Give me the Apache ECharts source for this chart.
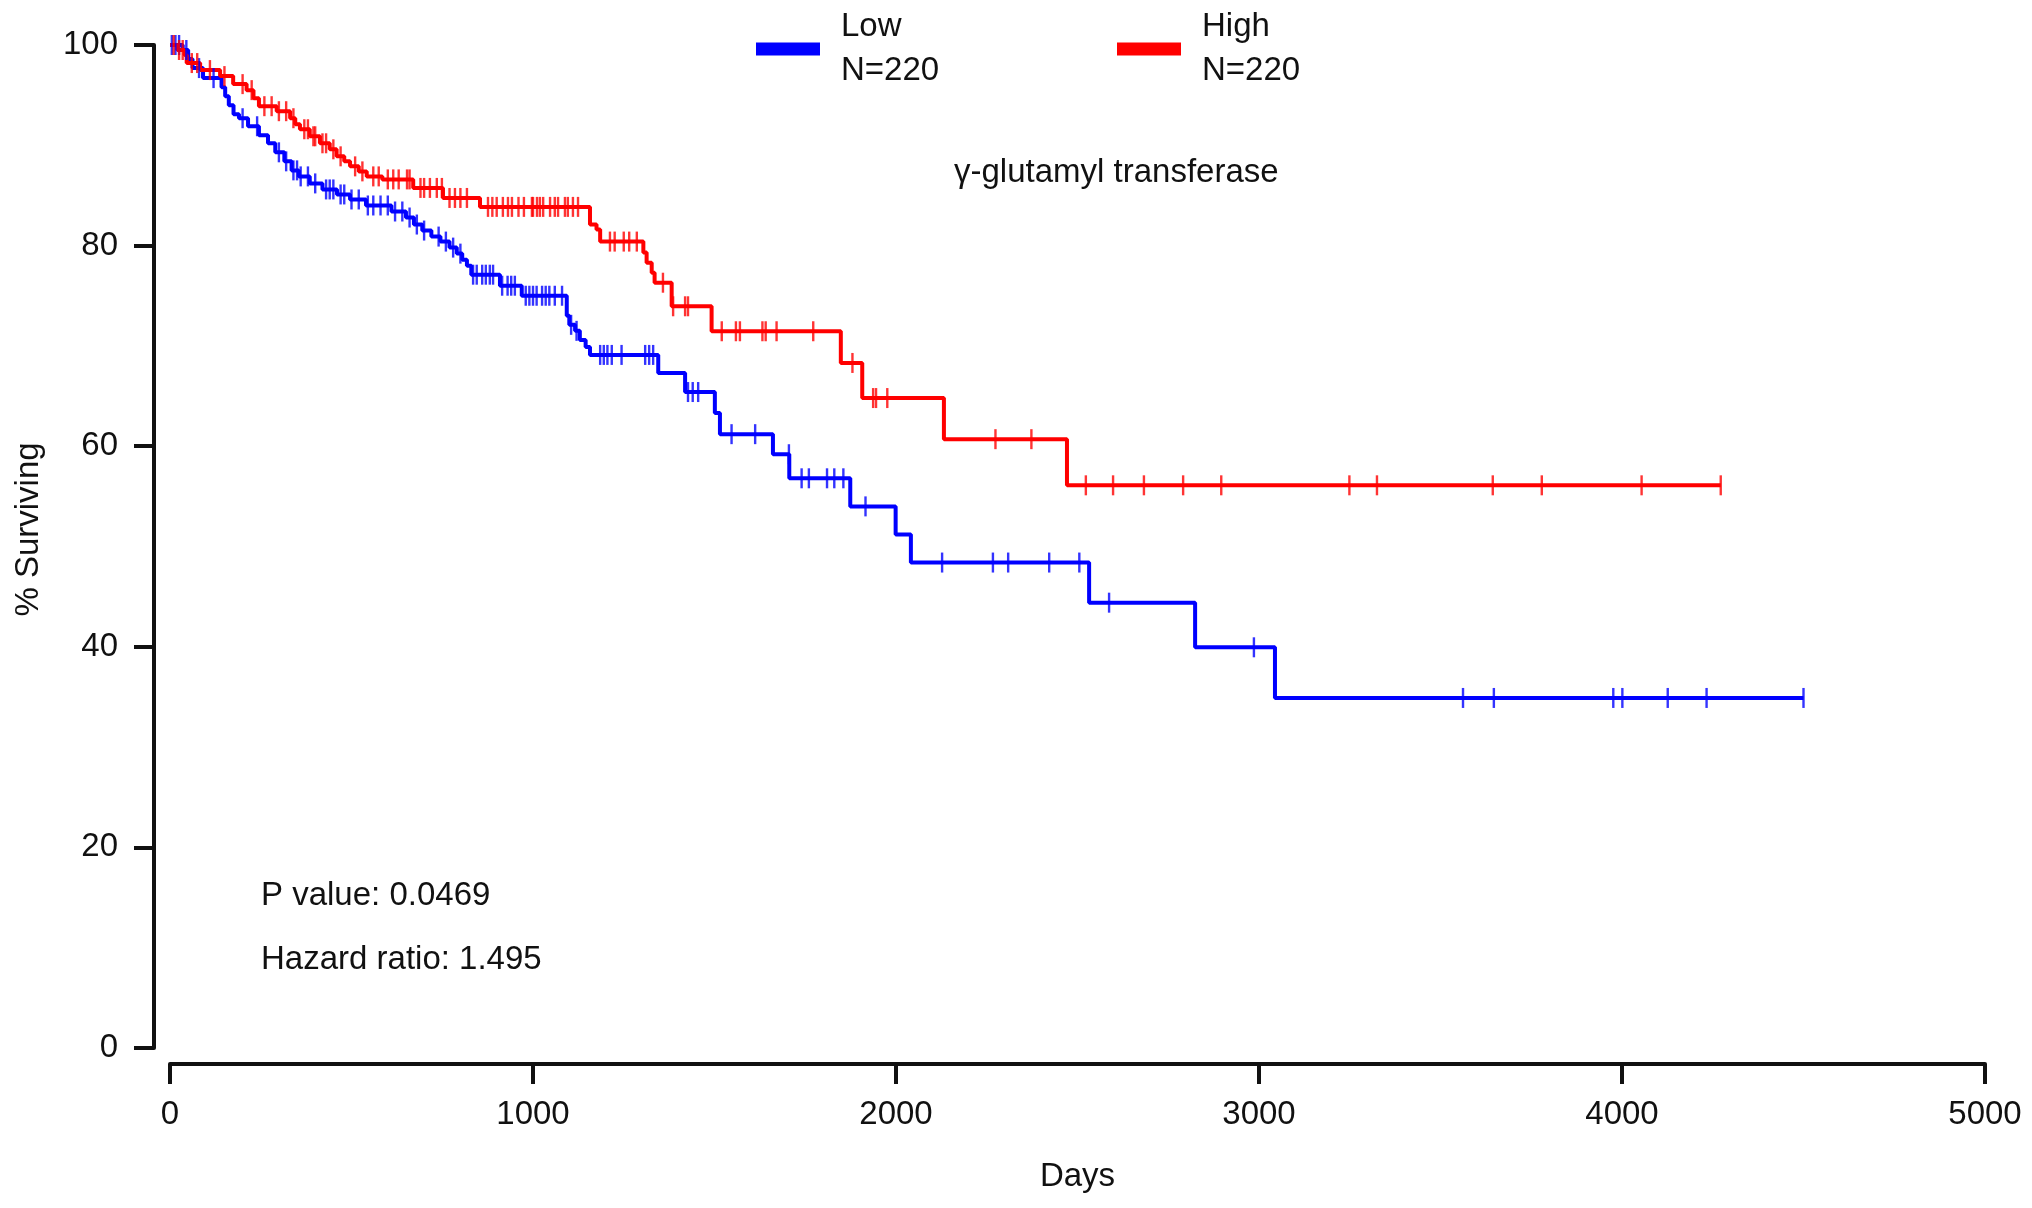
<!DOCTYPE html>
<html>
<head>
<meta charset="utf-8">
<script src="https://cdn.jsdelivr.net/npm/echarts@6/dist/echarts.min.js"></script>
<style>
html,body{margin:0;padding:0;background:#fff;}
#chart{width:2032px;height:1208px;}
</style>
</head>
<body>
<div id="chart"></div>
<script>
// ---- data ----
const xTicks = [0, 1000, 2000, 3000, 4000, 5000];
const yTicks = [0, 20, 40, 60, 80, 100];

// Kaplan-Meier steps: [day, % surviving from that day on]
const lowSteps = [
  [0,100],[35,99.5],[50,98.6],[62,97.7],[91,96.7],[142,95.8],[152,94.9],[162,94.0],[175,93.1],
  [190,92.7],[215,91.9],[245,91.0],[270,90.2],[290,89.3],[315,88.4],[335,87.5],[355,86.9],
  [385,86.2],[420,85.6],[460,85.1],[496,84.6],[540,84.0],[610,83.4],[650,82.8],[672,82.1],
  [695,81.5],[720,80.9],[745,80.4],[770,79.8],[790,79.2],[805,78.6],[818,78.0],[830,77.1],
  [909,76.0],[969,75.0],[1093,73.0],[1100,72.1],[1116,71.5],[1129,70.6],[1145,69.9],[1157,69.1],
  [1345,67.3],[1419,65.4],[1501,63.3],[1515,61.2],[1661,59.2],[1706,56.8],[1874,54.0],
  [1999,51.2],[2041,48.4],[2532,44.4],[2824,39.95],[3044,34.9],[4500,34.9]
];
const highSteps = [
  [0,100],[20,99.5],[40,99.0],[46,98.2],[83,97.5],[138,96.9],[174,96.1],[211,95.5],[230,94.7],
  [245,93.9],[294,93.4],[331,92.7],[345,92.1],[358,91.6],[385,90.9],[413,90.2],[440,89.6],
  [459,88.9],[480,88.4],[496,87.9],[520,87.4],[542,86.9],[585,86.6],[670,85.75],[752,84.75],
  [854,83.86],[1157,82.1],[1175,81.6],[1185,80.4],[1304,79.3],[1313,78.3],[1327,77.3],[1335,76.3],
  [1382,73.95],[1492,71.46],[1848,68.3],[1907,64.8],[2132,60.7],[2471,56.1],[4272,56.1]
];
// censored days (tick marks)
const lowCensor = [
  5,15,25,45,80,120,200,240,300,320,340,350,360,380,400,430,440,450,470,480,500,520,545,560,
  580,600,620,640,660,680,700,740,760,780,800,835,845,860,870,881,890,915,930,940,950,980,990,
  1000,1010,1025,1035,1045,1060,1080,1105,1120,1185,1195,1205,1217,1244,1309,1320,1331,1427,
  1440,1455,1547,1612,1705,1740,1760,1810,1830,1855,1916,2127,2267,2309,2422,2505,2587,2986,
  3562,3647,3976,4001,4126,4233,4500
];
const highCensor = [
  10,25,35,60,75,110,150,200,225,260,280,300,320,340,370,380,395,400,420,430,450,470,510,530,
  560,575,600,615,630,653,660,690,700,716,735,749,770,785,800,818,876,888,900,917,931,942,960,
  975,997,1000,1011,1019,1028,1047,1060,1069,1088,1096,1110,1124,1212,1225,1250,1265,1286,1358,
  1386,1419,1427,1520,1559,1570,1632,1641,1671,1772,1880,1937,1945,1976,2274,2373,2523,2598,
  2683,2791,2896,3249,3325,3644,3779,4054,4272
];
const groupNames = ['Low', 'High'];
const groupN = [220, 220];
const groupColors = ['#0000ff', '#ff0000'];
const titleText = 'γ-glutamyl transferase';
const pValueText = 'P value: 0.0469';
const hazardText = 'Hazard ratio: 1.495';

// level of a step curve at a given day (for placing censor ticks on the curve)
function levelAt(steps, d) {
  let v = steps[0][1];
  for (const [t, s] of steps) { if (t <= d) v = s; else break; }
  return v;
}

const FONT = "'Liberation Sans', Arial, Helvetica, sans-serif";
const FS = 33;
const INK = '#111';

const chart = echarts.init(document.getElementById('chart'), null, {renderer: 'canvas'});

function curveSeries(name, steps, color) {
  return {
    name: name, type: 'line', step: 'end', data: steps, showSymbol: false, symbol: 'none',
    clip: false, lineStyle: {color: color, width: 4}, itemStyle: {color: color},
    animation: false, z: 3
  };
}
function censorSeries(name, steps, days, color) {
  return {
    name: name + ' censored', type: 'scatter', data: days.map(d => [d, levelAt(steps, d)]),
    symbol: 'rect', symbolSize: [2.4, 20], clip: false,
    itemStyle: {color: color}, animation: false, z: 4
  };
}

function legendFor(i, left) {
  return {
    data: [groupNames[i]], left: left, top: 5, orient: 'vertical', padding: 0,
    icon: 'rect', itemWidth: 64, itemHeight: 13,
    formatter: n => n + '\nN=' + groupN[i],
    textStyle: {fontFamily: FONT, fontSize: FS, lineHeight: 44, color: INK, padding: [0, 0, 0, 16]},
    selectedMode: false
  };
}

chart.setOption({
  backgroundColor: '#fff',
  animation: false,
  grid: {left: 170, right: 47, top: 45, bottom: 160, containLabel: false, outerBoundsMode: 'none'},
  title: {
    text: titleText, left: 954, top: 156, padding: 0,
    textStyle: {fontFamily: FONT, fontSize: FS, fontWeight: 'normal', color: INK}
  },
  legend: [legendFor(0, 756), legendFor(1, 1117)],
  xAxis: {
    type: 'value', min: 0, max: 5000, interval: 1000, offset: 16,
    name: 'Days', nameLocation: 'middle', nameGap: 96,
    nameTextStyle: {fontFamily: FONT, fontSize: FS, color: INK},
    axisLine: {show: true, onZero: false, lineStyle: {color: INK, width: 4}},
    axisTick: {show: true, length: 20, lineStyle: {color: INK, width: 4}},
    axisLabel: {fontFamily: FONT, fontSize: FS, color: INK, margin: 34,
      formatter: v => xTicks.includes(v) ? String(v) : ''},
    splitLine: {show: false}
  },
  yAxis: {
    type: 'value', min: 0, max: 100, interval: 20, offset: 16,
    name: '% Surviving', nameLocation: 'middle', nameGap: 109, nameRotate: 90,
    nameTextStyle: {fontFamily: FONT, fontSize: FS, color: INK, padding: [0, 0, 0, 34]},
    axisLine: {show: true, onZero: false, lineStyle: {color: INK, width: 4}},
    axisTick: {show: true, length: 20, lineStyle: {color: INK, width: 4}},
    axisLabel: {fontFamily: FONT, fontSize: FS, color: INK, margin: 36,
      formatter: v => yTicks.includes(v) ? String(v) : ''},
    splitLine: {show: false}
  },
  graphic: [
    {type: 'text', left: 261, top: 898 - 19, style: {text: pValueText, font: FS + 'px ' + FONT, fill: INK}},
    {type: 'text', left: 261, top: 962 - 19, style: {text: hazardText, font: FS + 'px ' + FONT, fill: INK}}
  ],
  series: [
    curveSeries(groupNames[0], lowSteps, groupColors[0]),
    curveSeries(groupNames[1], highSteps, groupColors[1]),
    censorSeries(groupNames[0], lowSteps, lowCensor, groupColors[0]),
    censorSeries(groupNames[1], highSteps, highCensor, groupColors[1])
  ]
});
</script>
</body>
</html>
